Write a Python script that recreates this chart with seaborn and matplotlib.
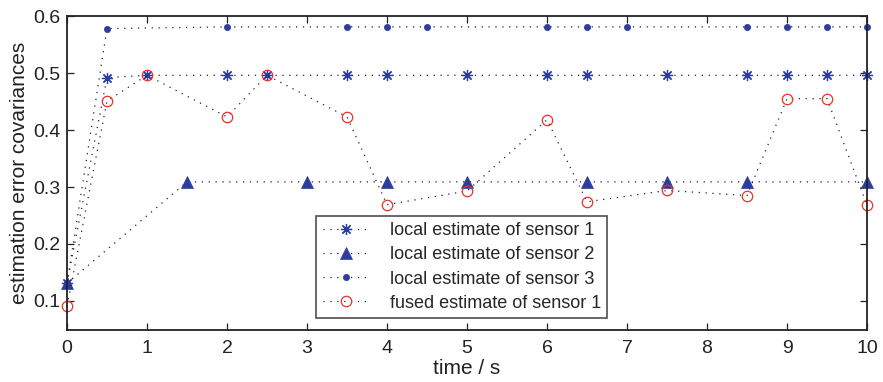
import matplotlib
matplotlib.use("Agg")
import matplotlib.pyplot as plt
import seaborn as sns
import pandas as pd

# Data
t_s1 = [0, 0.5, 1, 2, 2.5, 3.5, 4, 5, 6, 6.5, 7.5, 8.5, 9, 9.5, 10]
v_s1 = [0.131, 0.492, 0.496, 0.496, 0.496, 0.496, 0.496, 0.496, 0.496, 0.496, 0.496, 0.496, 0.496, 0.496, 0.496]

t_s2 = [0, 1.5, 3, 4, 5, 6.5, 7.5, 8.5, 10]
v_s2 = [0.131, 0.309, 0.309, 0.309, 0.309, 0.309, 0.309, 0.309, 0.309]

t_s3 = [0, 0.5, 2, 3.5, 4, 4.5, 6, 6.5, 7, 8.5, 9, 9.5, 10]
v_s3 = [0.131, 0.578, 0.581, 0.581, 0.581, 0.581, 0.581, 0.581, 0.581, 0.581, 0.581, 0.581, 0.581]

t_f = [0, 0.5, 1, 2, 2.5, 3.5, 4, 5, 6, 6.5, 7.5, 8.5, 9, 9.5, 10]
v_f = [0.091, 0.451, 0.496, 0.423, 0.496, 0.423, 0.269, 0.293, 0.418, 0.274, 0.294, 0.285, 0.455, 0.455, 0.268]

labels = ["local estimate of sensor 1", "local estimate of sensor 2",
          "local estimate of sensor 3", "fused estimate of sensor 1"]
x_ticks = [0, 1, 2, 3, 4, 5, 6, 7, 8, 9, 10]
y_ticks = [0.1, 0.2, 0.3, 0.4, 0.5, 0.6]

sns.set_theme(style="white")
plt.rcParams['font.family'] = ['Liberation Sans', 'DejaVu Sans']

fig = plt.figure(figsize=(8.83, 3.82), dpi=100)
ax = fig.add_axes([0.0759, 0.136, 0.906, 0.822])

blue = "#2b3ea0"
red = "#e8322a"
ls = (0, (1, 4.5))
lw = 0.9

series = [
    (t_s1, v_s1, labels[0], dict(marker=(8, 2, 0), markersize=8, markeredgecolor=blue, markerfacecolor=blue, markeredgewidth=0.9)),
    (t_s2, v_s2, labels[1], dict(marker="^", markersize=8.5, markeredgecolor=blue, markerfacecolor=blue, markeredgewidth=0.5)),
    (t_s3, v_s3, labels[2], dict(marker="o", markersize=4.5, markeredgecolor=blue, markerfacecolor=blue, markeredgewidth=0.5)),
    (t_f, v_f, labels[3], dict(marker="o", markersize=7.5, markeredgecolor=red, markerfacecolor="none", markeredgewidth=0.9)),
]

for t, v, lab, mk in series:
    df = pd.DataFrame({"t": t, "v": v})
    sns.lineplot(data=df, x="t", y="v", ax=ax, label=lab, color="#222222",
                 linestyle=ls, linewidth=lw, clip_on=False, **mk)

ax.set_xlim(0, 10)
ax.set_ylim(0.049, 0.6)
ax.set_xticks(x_ticks)
ax.set_xticklabels([str(x) for x in x_ticks])
ax.set_yticks(y_ticks)
ax.set_yticklabels([f"{y:.1f}" for y in y_ticks])
ax.tick_params(direction="in", length=5, width=0.9, top=True, right=True,
               bottom=True, left=True, labelsize=14, colors="#222222")
ax.tick_params(axis="x", pad=7)
ax.tick_params(axis="y", pad=4.5)
for sp in ax.spines.values():
    sp.set_visible(True)
    sp.set_color("#222222")
    sp.set_linewidth(1.3)

ax.set_xlabel("time / s", fontsize=15, labelpad=1.5, color="#222222")
ax.set_ylabel("estimation error covariances", fontsize=15, labelpad=3.5, color="#222222")

leg = ax.legend(loc="lower center", bbox_to_anchor=(0.4935, 0.038), fontsize=13,
                frameon=True, fancybox=False, edgecolor="#222222", handlelength=2.6,
                borderpad=0.35, labelspacing=0.4, handletextpad=1.1, borderaxespad=0)
leg.get_frame().set_linewidth(1.2)

fig.savefig("out.png", dpi=100)
